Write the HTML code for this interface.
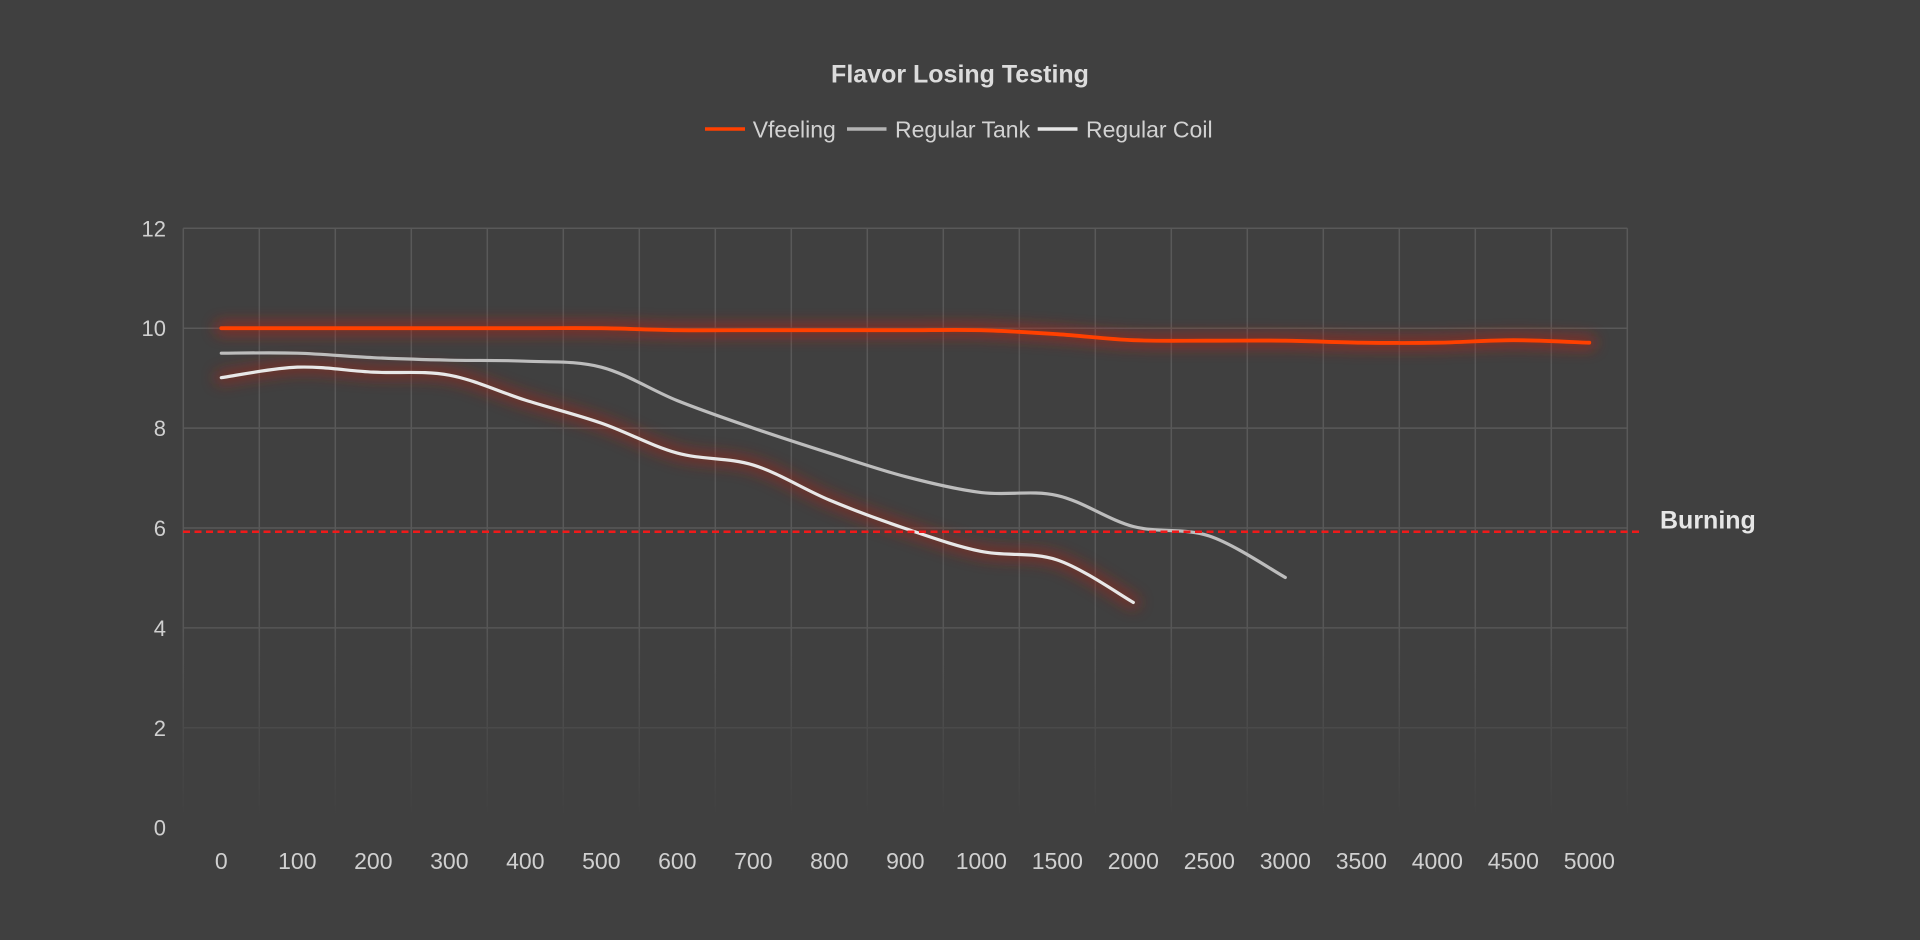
<!DOCTYPE html>
<html><head><meta charset="utf-8"><style>
html,body{margin:0;padding:0;background:#404040;}
svg{display:block;}
text{font-family:"Liberation Sans",sans-serif;}
</style></head><body>
<svg id="c" width="1920" height="940" viewBox="0 0 1920 940" xmlns="http://www.w3.org/2000/svg">
<defs>
<filter id="glow" filterUnits="userSpaceOnUse" x="0" y="0" width="1920" height="940"><feGaussianBlur stdDeviation="7"/></filter>
<linearGradient id="fade" x1="0" y1="0" x2="0" y2="1">
<stop offset="0" stop-color="#404040" stop-opacity="0"/>
<stop offset="0.93" stop-color="#404040" stop-opacity="1"/>
<stop offset="1" stop-color="#404040" stop-opacity="1"/>
</linearGradient>
</defs>
<rect width="1920" height="940" fill="#404040"/>
<text x="960" y="82.7" text-anchor="middle" font-size="25" font-weight="bold" fill="#dcdcdc">Flavor Losing Testing</text>
<line x1="705" y1="129" x2="745" y2="129" stroke="#ff4000" stroke-width="3.5"/>
<text x="752.7" y="137.7" font-size="23" fill="#d2d2d2">Vfeeling</text>
<line x1="847" y1="129" x2="886.5" y2="129" stroke="#b4b4b4" stroke-width="3.5"/>
<text x="895" y="137.7" font-size="23" fill="#d2d2d2">Regular Tank</text>
<line x1="1037.7" y1="129" x2="1077.5" y2="129" stroke="#e6e6e6" stroke-width="3.5"/>
<text x="1086" y="137.7" font-size="23" fill="#d2d2d2">Regular Coil</text>
<g id="grid" stroke="#595959" stroke-width="1.5"></g>
<rect x="170" y="600" width="1470" height="234" fill="url(#fade)"/>
<g id="ylab" font-size="22" fill="#d0d0d0" text-anchor="end"></g>
<g id="xlab" font-size="23" fill="#d0d0d0" text-anchor="middle"></g>
<g id="series"></g>
<line x1="183" y1="531.7" x2="1643" y2="531.7" stroke="#f01a1a" stroke-width="2.5" stroke-dasharray="7 4.5"/>
<text x="1660" y="528.3" font-size="25" font-weight="bold" fill="#e6e6e6">Burning</text>
</svg>
<script>
(function(){
var NS="http://www.w3.org/2000/svg";
var L=183.3,W=76,T=228.3,B=827.7,R=L+19*W;
function X(i){return L+W*(i+0.5);}
function Y(v){return B-49.95*v;}
var g=document.getElementById('grid');
for(var k=0;k<=19;k++){var l=document.createElementNS(NS,'line');var x=L+W*k;l.setAttribute('x1',x);l.setAttribute('x2',x);l.setAttribute('y1',T);l.setAttribute('y2',B);g.appendChild(l);}
for(var v=0;v<=12;v+=2){var l=document.createElementNS(NS,'line');l.setAttribute('x1',L);l.setAttribute('x2',R);l.setAttribute('y1',Y(v));l.setAttribute('y2',Y(v));g.appendChild(l);}
var yl=document.getElementById('ylab');
for(var v=0;v<=12;v+=2){var t=document.createElementNS(NS,'text');t.setAttribute('x',166);t.setAttribute('y',Y(v)+8);t.textContent=v;yl.appendChild(t);}
var cats=[0,100,200,300,400,500,600,700,800,900,1000,1500,2000,2500,3000,3500,4000,4500,5000];
var xl=document.getElementById('xlab');
cats.forEach(function(c,i){var t=document.createElementNS(NS,'text');t.setAttribute('x',X(i));t.setAttribute('y',869);t.textContent=c;xl.appendChild(t);});
function path(vals){
var p=vals.map(function(v,i){return [X(i),Y(v)];});
var d='M'+p[0][0].toFixed(2)+' '+p[0][1].toFixed(2);
for(var i=0;i<p.length-1;i++){
var p0=p[i-1]||p[i],p1=p[i],p2=p[i+1],p3=p[i+2]||p[i+1];
var c1x=p1[0]+(p2[0]-p0[0])/6,c1y=p1[1]+(p2[1]-p0[1])/6;
var c2x=p2[0]-(p3[0]-p1[0])/6,c2y=p2[1]-(p3[1]-p1[1])/6;
d+=' C'+c1x.toFixed(2)+' '+c1y.toFixed(2)+' '+c2x.toFixed(2)+' '+c2y.toFixed(2)+' '+p2[0].toFixed(2)+' '+p2[1].toFixed(2);
}
return d;}
var V=[10,10,10,10,10,10,9.96,9.96,9.96,9.96,9.96,9.88,9.76,9.75,9.75,9.71,9.71,9.76,9.71];
var Tk=[9.5,9.5,9.41,9.36,9.34,9.22,8.55,8.0,7.5,7.03,6.71,6.65,6.03,5.84,5.01];
var C=[9.01,9.22,9.12,9.06,8.56,8.1,7.5,7.26,6.56,5.99,5.53,5.36,4.51];
var s=document.getElementById('series');
function add(d,stroke,w,op,filt){var e=document.createElementNS(NS,'path');e.setAttribute('d',d);e.setAttribute('fill','none');e.setAttribute('stroke',stroke);e.setAttribute('stroke-width',w);e.setAttribute('stroke-linecap','round');e.setAttribute('stroke-linejoin','round');if(op!==undefined)e.setAttribute('opacity',op);if(filt)e.setAttribute('filter','url(#glow)');s.appendChild(e);}
var dV=path(V),dT=path(Tk),dC=path(C);
add(dV,'#b82418',14,0.55,true);
add(dC,'#a82016',14,0.5,true);
add(dT,'#bdbdbd',3.2);
add(dC,'#e8e8e8',3.2);
add(dV,'#ff4000',3.8);
})();
</script>
</body></html>
